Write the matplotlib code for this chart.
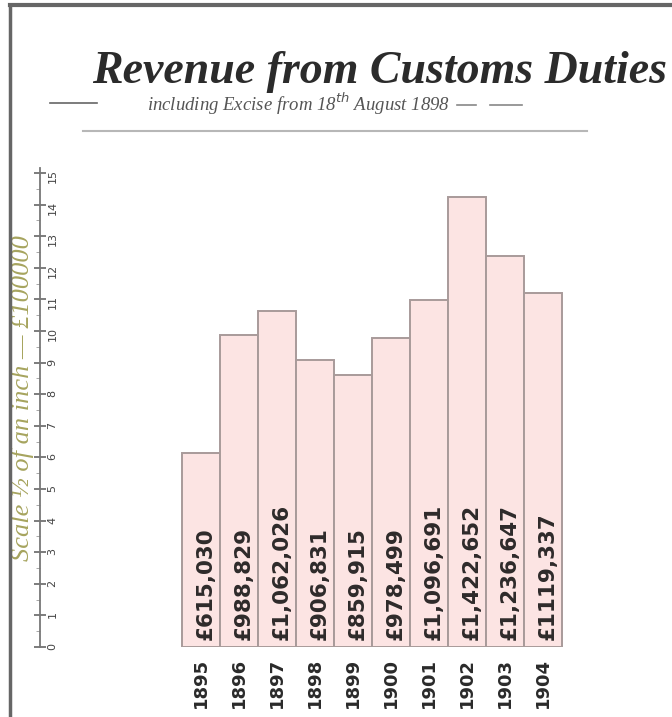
import matplotlib.pyplot as plt
from matplotlib.lines import Line2D

# Данные: доход от таможенных пошлин по годам
years = ['1895', '1896', '1897', '1898', '1899', '1900', '1901', '1902', '1903', '1904']
revenue = [615030, 988829, 1062026, 906831, 859915, 978499, 1096691, 1422652, 1236647, 1119337]
bar_labels = ['£615,030', '£988,829', '£1,062,026', '£906,831', '£859,915',
              '£978,499', '£1,096,691', '£1,422,652', '£1,236,647', '£1119,337']
scale_ticks = list(range(16))  # в сотнях тысяч фунтов

W, H = 672, 717
fig = plt.figure(figsize=(W / 100, H / 100), dpi=100)
fig.patch.set_facecolor('white')

# Оси: левая граница = шкала, столбцы внутри
ax = fig.add_axes([40 / W, (H - 647) / H, 600 / W, (647 - 168) / H])
ax.set_facecolor('none')

heights = [v / 1e5 for v in revenue]
x = list(range(len(years)))
ax.bar(x, heights, width=1.0, color='#fce4e3', edgecolor='#a89a9a', linewidth=1.4)

for i, lab in enumerate(bar_labels):
    ax.text(i + 0.12, 0.22, lab, rotation=90, ha='center', va='bottom',
            fontsize=15.5, fontweight='bold', color='#2e2a2a', family='DejaVu Sans')

ax.set_xlim(-4.237, 11.55)
ax.set_ylim(0, 15.16)

ax.set_xticks(x, years, rotation=90, fontsize=13, fontweight='bold', color='#2a2a2a')
ax.tick_params(axis='x', length=0, pad=8)

ax.set_yticks(scale_ticks, [str(t) for t in scale_ticks])
ax.tick_params(axis='y', direction='inout', length=9, width=1.2, color='#666666',
               pad=-17, labelsize=8, labelcolor='#444444', labelrotation=90)
ax.set_yticks([t + 0.5 for t in scale_ticks[:-1]], minor=True)
ax.tick_params(axis='y', which='minor', direction='out', length=3, color='#999999')

for s in ['top', 'right', 'bottom']:
    ax.spines[s].set_visible(False)
ax.spines['left'].set_color('#777777')
ax.spines['left'].set_linewidth(1.3)

ax.set_ylabel('Scale ½ of an inch — £100000', fontsize=19, style='italic',
              family='Liberation Serif', color='#a6a45e')
ax.yaxis.set_label_coords(-0.01, 0.52)

# Заголовок
fig.text(380 / W, 1 - 72 / H, 'Revenue from Customs Duties', ha='center', va='center',
         fontsize=33, fontweight='bold', style='italic', family='Liberation Serif',
         color='#2b2b2b')
fig.text(298 / W, 1 - 104 / H, 'including Excise from 18$^{th}$ August 1898', ha='center',
         va='center', fontsize=13.5, style='italic', family='Liberation Serif', color='#555555')

# Линии оформления
def hline(x0, x1, y, lw, c, a=1.0):
    fig.add_artist(Line2D([x0 / W, x1 / W], [1 - y / H, 1 - y / H], lw=lw, color=c, alpha=a))

hline(50, 97, 103, 1.2, '#666666')
hline(457, 476, 105, 1.2, '#888888')
hline(490, 522, 105, 1.2, '#888888')
hline(83, 587, 131, 1.5, '#999999', 0.7)
hline(10, W, 5, 3.0, '#666666')
fig.add_artist(Line2D([10 / W, 10 / W], [0, 1 - 5 / H], lw=2.5, color='#666666'))

fig.savefig('out.png', dpi=100)
